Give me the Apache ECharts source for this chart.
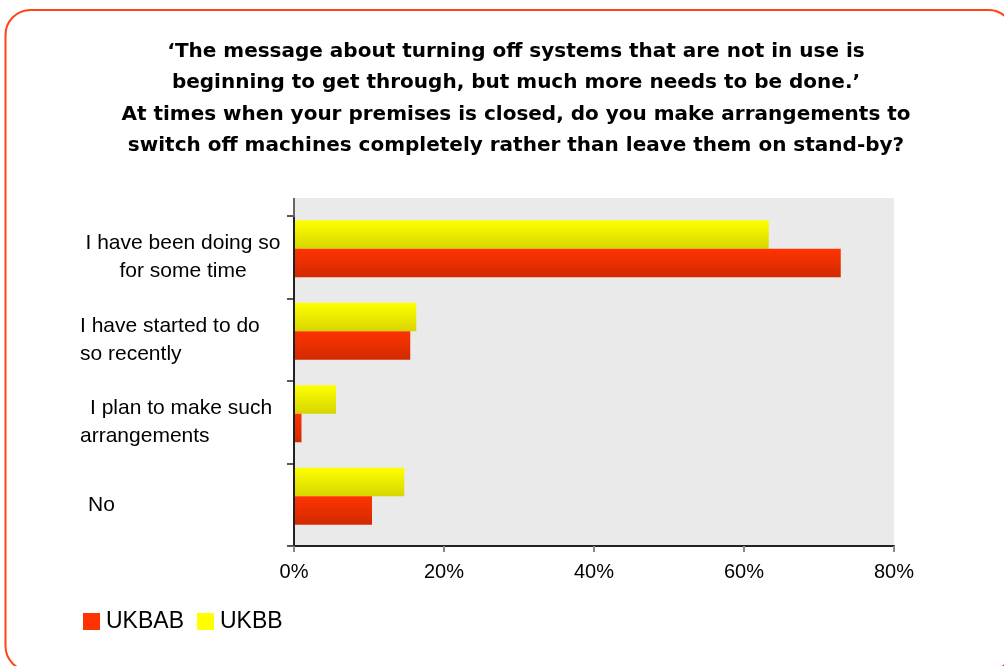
<!DOCTYPE html>
<html><head><meta charset="utf-8">
<script src="https://cdn.jsdelivr.net/npm/echarts@6/dist/echarts.min.js"></script>
<style>html,body{margin:0;padding:0;background:#fff}#c{width:1004px;height:666px}</style>
</head><body><div id="c"></div>
<script>
const titleText = "‘The message about turning off systems that are not in use is\nbeginning to get through, but much more needs to be done.’\nAt times when your premises is closed, do you make arrangements to\nswitch off machines completely rather than leave them on stand-by?";
const categories = ["I have been doing so\nfor some time", "I have started to do\nso recently", "I plan to make such\narrangements", "No"];
const seriesNames = ["UKBAB", "UKBB"];
const ukbab = [72.9, 15.5, 1.0, 10.4];
const ukbb = [63.3, 16.3, 5.6, 14.7];
const xTicks = [0, 20, 40, 60, 80];

// style: rich style name per label line
const lineStyles = [["c", "c"], ["l", "l"], ["p10", "l"], ["p8"]];

const FONT = "'Liberation Sans', Arial, sans-serif";
const chart = echarts.init(document.getElementById('c'), null, {renderer: 'canvas'});
const richBase = {fontSize: 21, lineHeight: 28, color: '#000', fontFamily: FONT};
chart.setOption({
  animation: false,
  backgroundColor: '#fff',
  textStyle: {fontFamily: FONT},
  title: {
    text: titleText, left: 511, top: 31, textAlign: 'center',
    textStyle: {fontSize: 20, fontWeight: 'bold', lineHeight: 31.5, color: '#000', fontFamily: "'DejaVu Sans', sans-serif"}
  },
  graphic: {elements: [
    {type: 'rect', z: -20, silent: true, shape: {x: 5.5, y: 10, width: 1008, height: 661, r: 25},
      style: {fill: '#fff', stroke: '#ff4514', lineWidth: 2}},
    {type: 'rect', z: -10, silent: true, shape: {x: 294, y: 198, width: 600, height: 348},
      style: {fill: '#eaeaea'}},
    {type: 'line', z: 10, silent: true, shape: {x1: 294, y1: 198, x2: 294, y2: 217},
      style: {stroke: '#666', lineWidth: 2}}
  ]},
  legend: {
    left: 78, top: 605, itemWidth: 17, itemHeight: 17, itemGap: 13, icon: 'rect',
    data: [{name: seriesNames[0], itemStyle: {color: '#ff3300'}}, {name: seriesNames[1], itemStyle: {color: '#ffff00'}}],
    textStyle: {fontSize: 23, color: '#000', fontFamily: FONT, padding: [0, 0, 0, 1]}
  },
  grid: [
    {left: 294, top: 216, width: 600, height: 330},
    {left: 294, top: 207.5, width: 600, height: 330}
  ],
  xAxis: [
    {type: 'value', gridIndex: 0, min: xTicks[0], max: xTicks[xTicks.length - 1], interval: 20, z: 5,
      axisLine: {show: true, lineStyle: {color: '#222', width: 2}},
      axisTick: {show: true, length: 6, lineStyle: {color: '#888', width: 2}},
      splitLine: {show: false},
      axisLabel: {formatter: '{value}%', fontSize: 20, color: '#000', margin: 16, fontFamily: FONT}},
    {type: 'value', gridIndex: 1, min: xTicks[0], max: xTicks[xTicks.length - 1], show: false, splitLine: {show: false}}
  ],
  yAxis: [
    {type: 'category', gridIndex: 0, inverse: true, data: categories, z: 5,
      axisLine: {show: true, lineStyle: {color: '#222', width: 2}},
      axisTick: {show: true, length: 7, lineStyle: {color: '#222', width: 1.5}},
      axisLabel: {
        margin: 214, align: 'left', verticalAlign: 'middle', fontSize: 21, lineHeight: 28, color: '#000',
        formatter: function (v, i) {
          return v.split('\n').map(function (line, k) { return '{' + lineStyles[i][k] + '|' + line + '}'; }).join('\n');
        },
        rich: {
          c: Object.assign({width: 206, align: 'center'}, richBase),
          l: Object.assign({width: 206, align: 'left'}, richBase),
          p10: Object.assign({width: 196, align: 'left', padding: [0, 0, 0, 10]}, richBase),
          p8: Object.assign({width: 198, align: 'left', padding: [0, 0, 0, 8]}, richBase)
        }
      }},
    {type: 'category', gridIndex: 1, inverse: true, data: categories, show: false}
  ],
  series: [
    {name: seriesNames[1], type: 'bar', xAxisIndex: 1, yAxisIndex: 1, data: ukbb, barWidth: 28.5, barGap: '0%',
      itemStyle: {color: new echarts.graphic.LinearGradient(0, 0, 0, 1, [{offset: 0, color: '#ffff00'}, {offset: 1, color: '#d6d600'}])}},
    {name: seriesNames[0], type: 'bar', xAxisIndex: 1, yAxisIndex: 1, data: ukbab, barWidth: 28.5, barGap: '0%',
      itemStyle: {color: new echarts.graphic.LinearGradient(0, 0, 0, 1, [{offset: 0, color: '#ff3300'}, {offset: 1, color: '#d22a00'}])}}
  ]
});
</script></body></html>
